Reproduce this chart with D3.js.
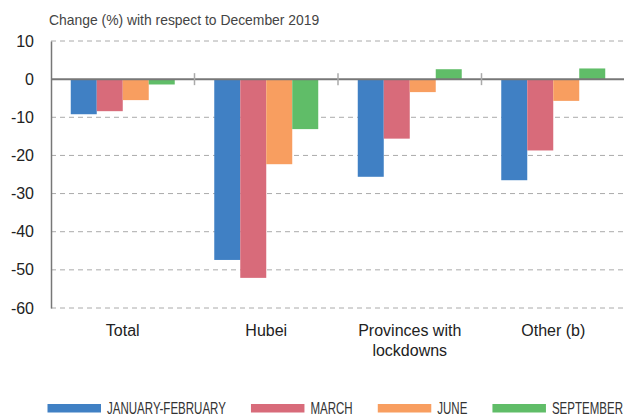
<!DOCTYPE html>
<html><head><meta charset="utf-8">
<script src="https://cdn.jsdelivr.net/npm/d3@7"></script>
<style>body{margin:0;background:#fff}svg{display:block}</style>
</head><body><svg id="c" width="624" height="414"></svg>
<script>
const categories = [["Total"], ["Hubei"], ["Provinces with", "lockdowns"], ["Other (b)"]];
const seriesNames = ["JANUARY-FEBRUARY", "MARCH", "JUNE", "SEPTEMBER"];
const seriesColors = ["#4080c4", "#d86b7a", "#f89e60", "#60bd68"];
const janFeb = [-9.2, -47.4, -25.6, -26.5];
const march = [-8.4, -52.1, -15.6, -18.7];
const june = [-5.5, -22.3, -3.4, -5.7];
const september = [-1.4, -13.1, 2.6, 2.8];
const yTicks = [10, 0, -10, -20, -30, -40, -50, -60];
const title = "Change (%) with respect to December 2019";

const series = [janFeb, march, june, september];
const svg = d3.select("#c");
const FONT = "Liberation Sans, Arial, Helvetica, sans-serif";
const L = 51, R = 625, T = 41, B = 308;
const y = d3.scaleLinear().domain([-60, 10]).range([B, T]);
const x0 = d3.scaleBand().domain(d3.range(categories.length)).range([L, R]).paddingInner(0).paddingOuter(0);
const x1 = d3.scaleBand().domain(d3.range(series.length)).range([0, x0.bandwidth()]).paddingInner(0).paddingOuter(0.76);

svg.append("text").attr("x", 49).attr("y", 25).attr("font-family", FONT)
  .attr("font-size", 13.9).attr("fill", "#444").text(title);

// gridlines
svg.append("g").selectAll("line").data(yTicks.filter(d => d !== 0)).join("line")
  .attr("x1", L).attr("x2", R).attr("y1", d => y(d)).attr("y2", d => y(d))
  .attr("stroke", "#aaa").attr("stroke-width", 1).attr("stroke-dasharray", "5,4");

// y axis
const yAxis = d3.axisLeft(y).tickValues(yTicks).tickSize(0).tickPadding(17).tickFormat(d => String(d));
const ga = svg.append("g").attr("transform", `translate(${L},0)`).call(yAxis);
ga.select(".domain").attr("stroke", "#777").attr("stroke-width", 1.5);
ga.selectAll("text").attr("font-family", FONT).attr("font-size", 16).attr("fill", "#222");

// bars
const g = svg.append("g");
categories.forEach((c, i) => {
  series.forEach((s, j) => {
    const v = s[i];
    g.append("rect")
      .attr("x", x0(i) + x1(j)).attr("width", x1.bandwidth())
      .attr("y", y(Math.max(0, v))).attr("height", Math.abs(y(v) - y(0)))
      .attr("fill", seriesColors[j]);
  });
});

// zero line
svg.append("line").attr("x1", L).attr("x2", R).attr("y1", y(0)).attr("y2", y(0))
  .attr("stroke", "#777").attr("stroke-width", 2);

// category separators
svg.append("g").selectAll("line").data(d3.range(1, categories.length)).join("line")
  .attr("x1", d => x0(d)).attr("x2", d => x0(d)).attr("y1", y(0) - 6).attr("y2", y(0) + 6)
  .attr("stroke", "#aaa").attr("stroke-width", 1.5);

// category labels
const cl = svg.append("g").selectAll("text").data(categories).join("text")
  .attr("x", (d, i) => x0(i) + x0.bandwidth() / 2).attr("y", 336)
  .attr("text-anchor", "middle").attr("font-family", FONT)
  .attr("font-size", 16).attr("fill", "#222");
cl.each(function(d) {
  d.forEach((line, k) => d3.select(this).append("tspan").attr("x", d3.select(this).attr("x")).attr("dy", k ? 19.5 : 0).text(line));
});

// legend (condensed text), spread between x=47.5 and x=623
const lg = svg.append("g");
const SW = 53.5, OFF = 6, LX0 = 47.5, LX1 = 623;
const items = seriesNames.map((n, j) => {
  const t = lg.append("text").attr("y", 413.5)
    .attr("font-family", FONT).attr("font-size", 16).attr("fill", "#333").text(n);
  const w = t.node().getComputedTextLength() * 0.72;
  t.attr("textLength", w).attr("lengthAdjust", "spacingAndGlyphs");
  return {t, w, j};
});
const sumW = d3.sum(items, d => d.w);
const gap = (LX1 - LX0 - items.length * (SW + OFF) - sumW) / (items.length - 1);
let lx = LX0;
items.forEach(({t, w, j}) => {
  lg.append("rect").attr("x", lx).attr("y", 404).attr("width", SW).attr("height", 8.5).attr("fill", seriesColors[j]);
  t.attr("x", lx + SW + OFF);
  lx += SW + OFF + w + gap;
});
</script></body></html>
